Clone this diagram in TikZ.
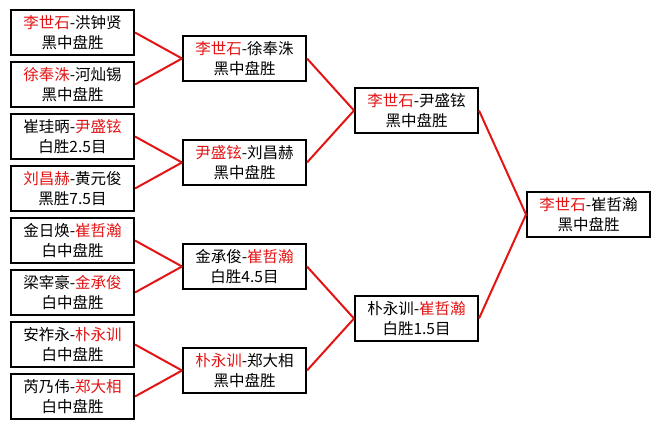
\documentclass[tikz,border=0pt]{standalone}
\usepackage{fontspec}
\newfontfamily\cjk{Noto Sans CJK SC}
\definecolor{winred}{RGB}{228,20,20}
\newcommand{\win}[1]{\textcolor{winred}{#1}}

\begin{document}
\begin{tikzpicture}[x=1pt,y=1pt,grow=left,level distance=172pt,
		edge from parent path={(\tikzparentnode.west) -- (\tikzchildnode.east)}]
			\tikzstyle{every node}=[draw=black,line width=2pt,fill=white,
				minimum width=123pt,minimum height=45pt,inner sep=0pt,
				align=center,font=\cjk\fontsize{15.5}{20}\selectfont]
			\tikzstyle{edge from parent}=[draw=winred,line width=2pt]
			\tikzstyle{level 1}=[sibling distance=208pt]
			\tikzstyle{level 2}=[sibling distance=104pt]
			\tikzstyle{level 3}=[sibling distance=52pt]
			\useasboundingbox (0,0) rectangle (660,429);
			\node (final) at (588.5,214.5) {\win{李世石}-崔哲瀚\\黑中盘胜}
			child {
				node (semiA) {\win{李世石}-尹盛铉\\黑中盘胜}
				child {
					node (qfA) {\win{李世石}-徐奉洙\\黑中盘胜}
					child {
						node (rA) {\win{李世石}-洪钟贤\\黑中盘胜}
					}
					child {
						node (rB) {\win{徐奉洙}-河灿锡\\黑中盘胜}
					}
				}
				child {
					node (qfB) {\win{尹盛铉}-刘昌赫\\黑中盘胜}
					child {
						node (rC) {崔珪昞-\win{尹盛铉}\\白胜2.5目}
					}
					child {
						node (rD) {\win{刘昌赫}-黄元俊\\黑胜7.5目}
					}
				}
			}
			child {
				node (semiB) {朴永训-\win{崔哲瀚}\\白胜1.5目}
				child {
					node (qfC) {金承俊-\win{崔哲瀚}\\白胜4.5目}
					child {
						node (rE) {金日焕-\win{崔哲瀚}\\白中盘胜}
					}
					child {
						node (rF) {梁宰豪-\win{金承俊}\\白中盘胜}
					}
				}
				child {
					node (qfD) {\win{朴永训}-郑大相\\黑中盘胜}
					child {
						node (rG) {安祚永-\win{朴永训}\\白中盘胜}
					}
					child {
						node (rH) {芮乃伟-\win{郑大相}\\白中盘胜}
					}
				}
			};
		\end{tikzpicture}
\end{document}
